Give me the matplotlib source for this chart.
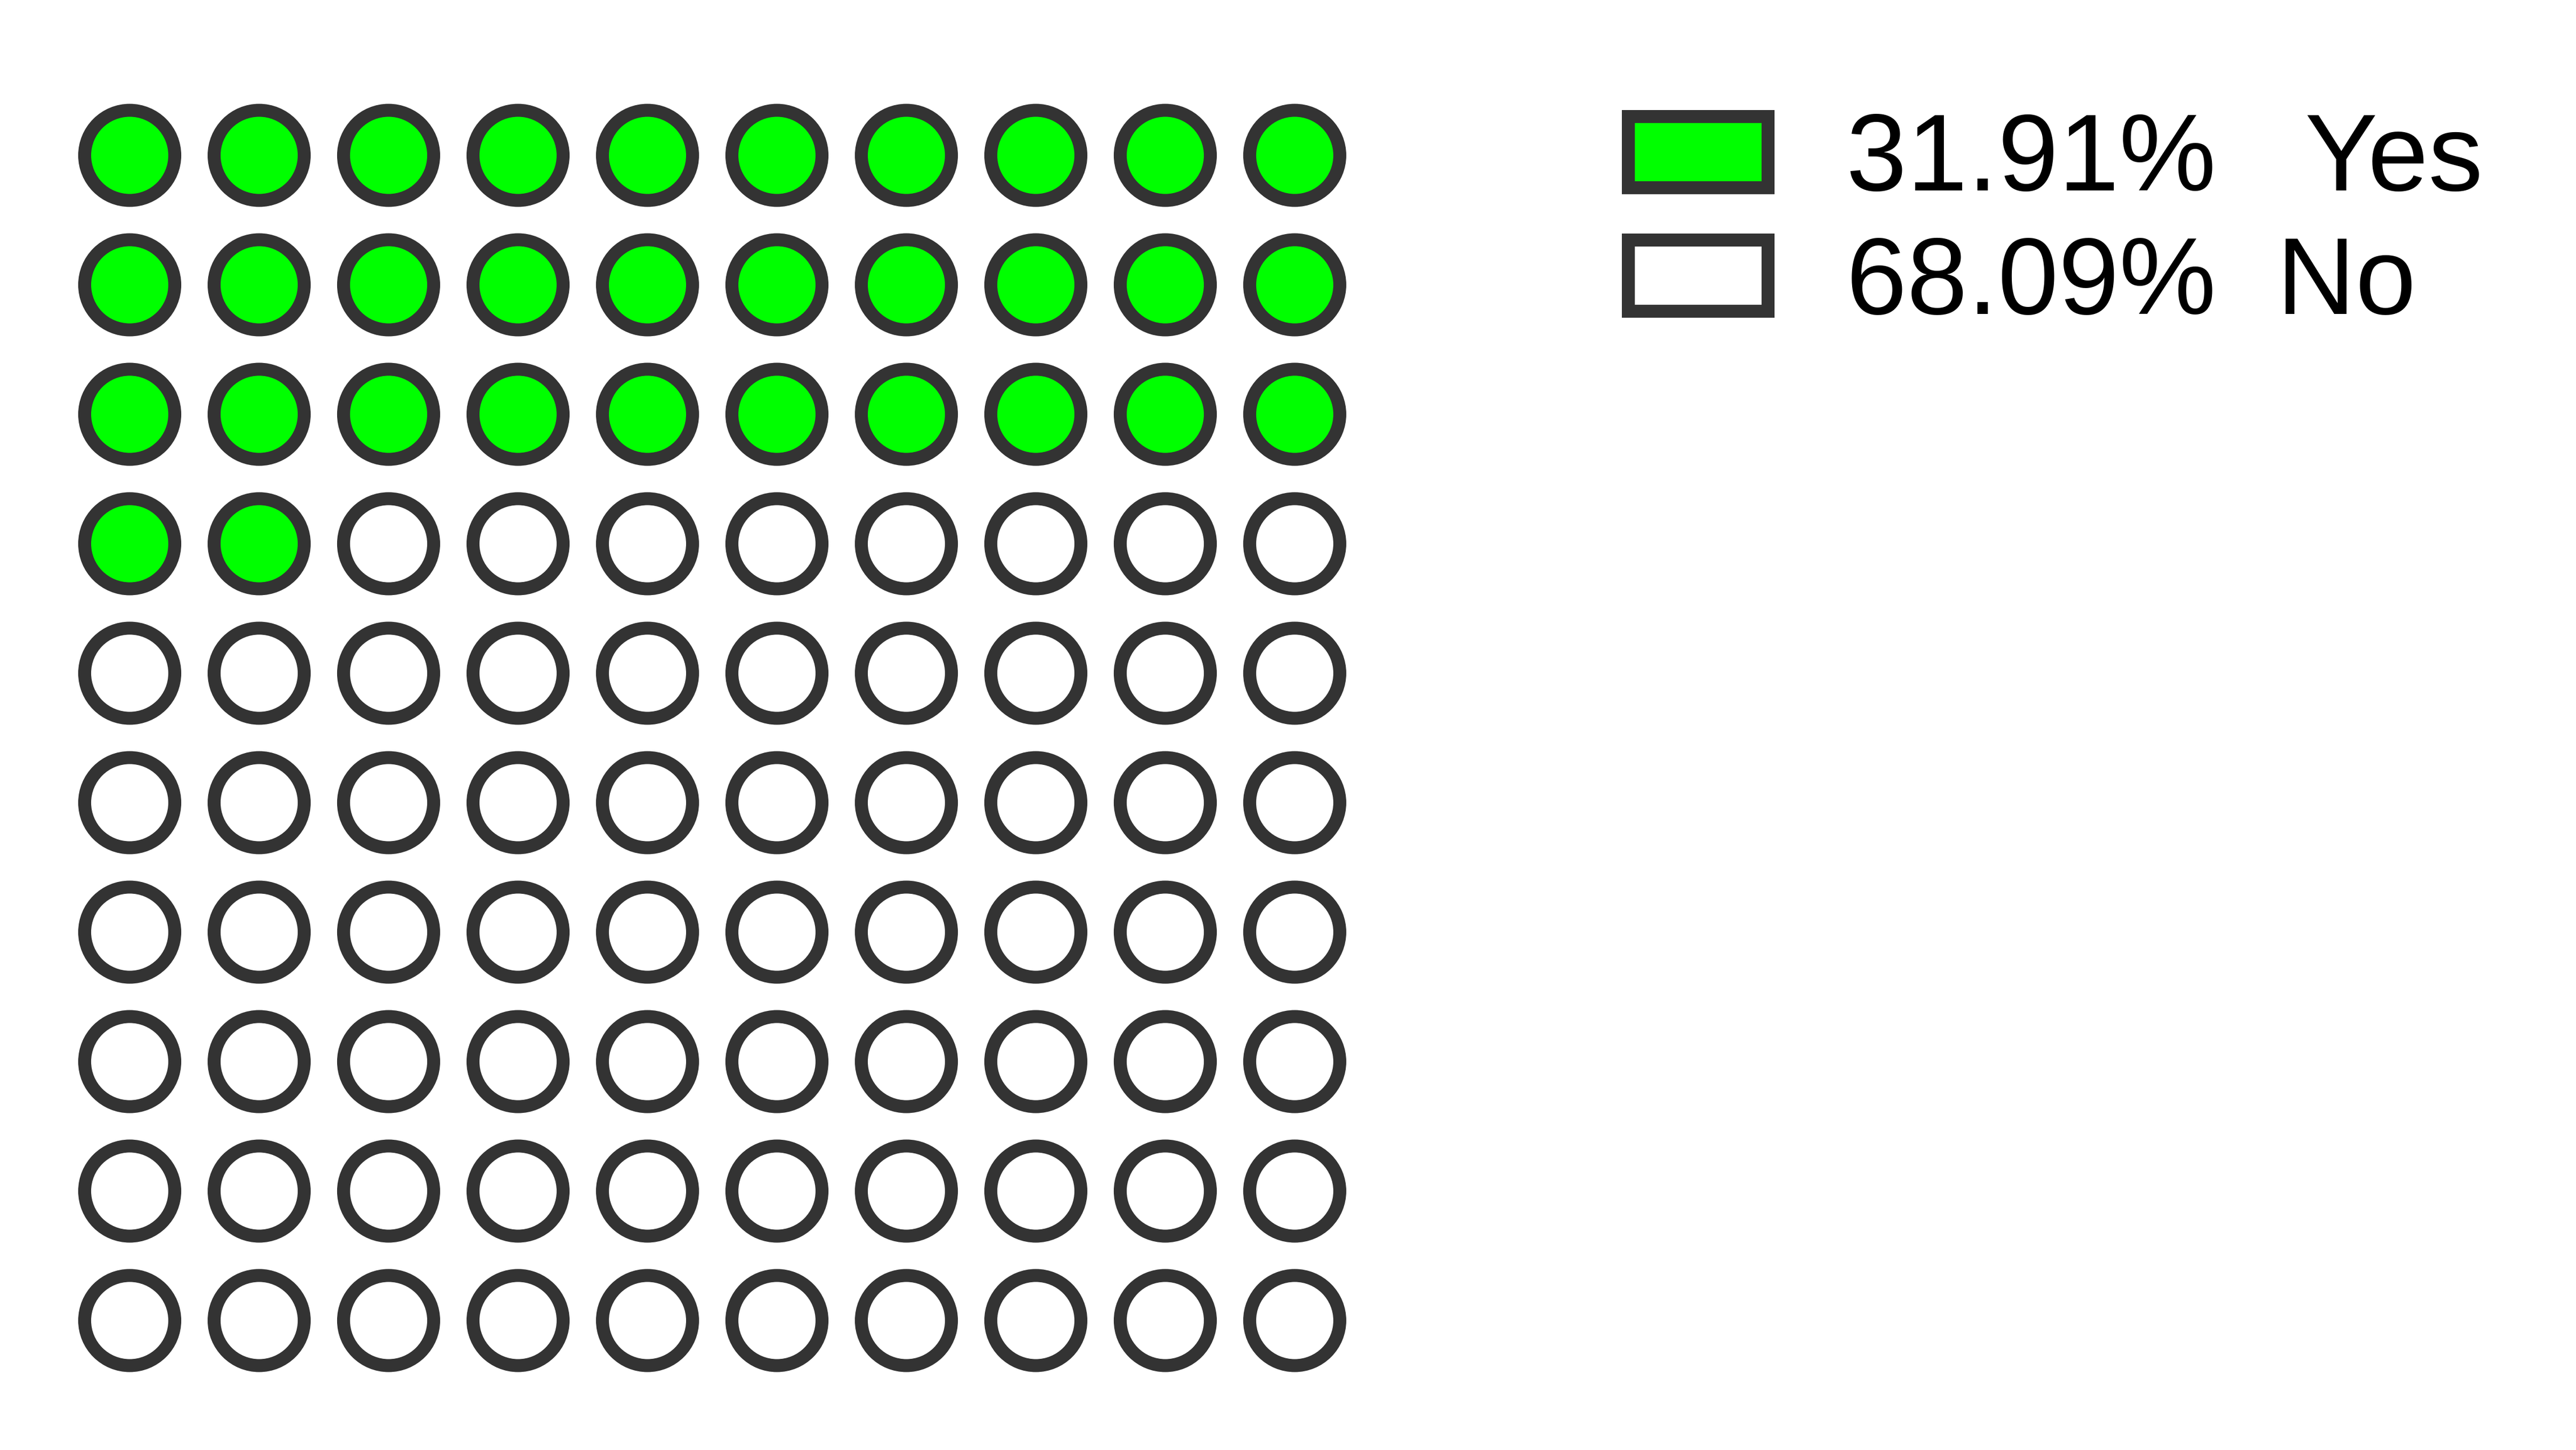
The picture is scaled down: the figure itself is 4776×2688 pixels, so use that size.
import matplotlib.pyplot as plt
from matplotlib.patches import Rectangle
import numpy as np

# waffle data
categories = ["Yes", "No"]
percents = [31.91, 68.09]
colors = ["#00ff00", "#ffffff"]
n_rows, n_cols = 10, 10

plt.rcParams['font.family'] = ['Liberation Sans', 'DejaVu Sans']

fig = plt.figure(figsize=(15.92, 8.96), dpi=300)
ax = fig.add_axes((0.02523, 0.04464, 0.50251, 0.89286))

# how many cells per category
counts = [int(round(p * n_rows * n_cols / 100)) for p in percents]
counts[-1] = n_rows * n_cols - sum(counts[:-1])
cell_colors = np.repeat(colors, counts)

cols, rows = np.meshgrid(np.arange(n_cols), np.arange(n_rows))
ax.scatter(cols.ravel(), rows.ravel(), s=1608, c=cell_colors,
           edgecolors="#333333", linewidths=5.76, zorder=2)

ax.set_xlim(-0.5, n_cols - 0.5)
ax.set_ylim(n_rows - 0.5, -0.5)
ax.set_axis_off()

# legend with boxes
handles = [Rectangle((0, 0), 1, 1, facecolor=c, edgecolor="#333333", linewidth=5.76)
           for c in colors]
labels = [f"{percents[0]:.2f}%   {categories[0]}", f"{percents[1]:.2f}%  {categories[1]}"]
fig.legend(handles, labels, loc="upper left", bbox_to_anchor=(3019 / 4776, 1 - 206 / 2688),
           frameon=False, fontsize=48.5, handlelength=1.28, handleheight=0.63,
           handletextpad=0.72, labelspacing=0.2, borderpad=0, borderaxespad=0)

fig.savefig("out.png", dpi=300, facecolor="white")
